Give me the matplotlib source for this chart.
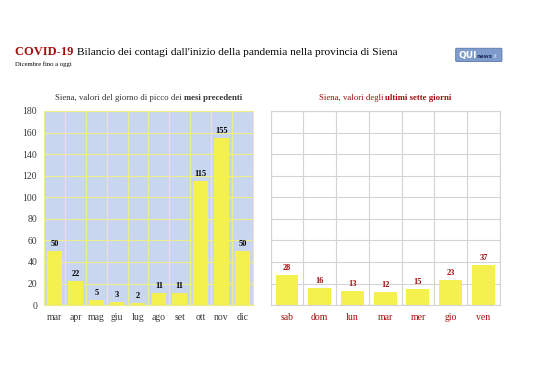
import numpy as np
import matplotlib
matplotlib.use("Agg")
import matplotlib.pyplot as plt
from matplotlib.patches import FancyBboxPatch

plt.rcParams['font.family'] = ['Liberation Serif', 'DejaVu Serif']

# data
months = ['mar', 'apr', 'mag', 'giu', 'lug', 'ago', 'set', 'ott', 'nov', 'dic']
month_peaks = [50, 22, 5, 3, 2, 11, 11, 115, 155, 50]
days = ['sab', 'dom', 'lun', 'mar', 'mer', 'gio', 'ven']
day_values = [28, 16, 13, 12, 15, 23, 37]

red = '#a50e0e'
bar_yellow = '#f4f04e'
tick_grey = '#3a3a3a'

fig = plt.figure(figsize=(5.38, 3.8), dpi=100)
renderer = fig.canvas.get_renderer()


def text_run(x, y, pieces, ha='left'):
    """place a sequence of (text, kwargs) side by side in figure coords"""
    arts = []
    cx = x
    for s, kw in pieces:
        a = fig.text(cx, y, s, va='baseline', **kw)
        w = a.get_window_extent(renderer).width / fig.bbox.width
        arts.append((a, w))
        cx += w
    if ha == 'center':
        total = cx - x
        for a, w in arts:
            a.set_x(a.get_position()[0] - total / 2)
    return arts


# title
text_run(0.028, 0.855, [
    ('COVID-19 ', dict(color=red, fontsize=9, fontweight='bold')),
    ("Bilancio dei contagi dall'inizio della pandemia nella provincia di Siena",
     dict(color='black', fontsize=8.2)),
])
fig.text(0.028, 0.826, 'Dicembre fino a oggi', fontsize=4.8, color='black', va='baseline')

# logo
logo = FancyBboxPatch((0.849, 0.840), 0.082, 0.031, boxstyle='round,pad=0.002',
                      transform=fig.transFigure, facecolor='#7f9ccc', edgecolor='#5a78a8', lw=0.6)
fig.patches.append(logo)
text_run(0.852, 0.848, [
    ('QUI', dict(fontsize=6.5, fontweight='bold', color='white', family='DejaVu Sans')),
    ('news', dict(fontsize=4, fontweight='bold', color='#203060', family='DejaVu Sans')),
    ('.it', dict(fontsize=3.5, color='#dde6f5', family='DejaVu Sans')),
])


def setup(ax, labels, gridcolor, spinecolor):
    n = len(labels)
    ax.set_xlim(-0.5, n - 0.5)
    ax.set_ylim(0, 180)
    ax.set_xticks(np.arange(n))
    ax.set_xticks(np.arange(n + 1) - 0.5, minor=True)
    ax.set_yticks(np.arange(0, 181, 20))
    ax.grid(True, which='minor', axis='x', color=gridcolor, lw=0.8)
    ax.grid(True, which='major', axis='y', color=gridcolor, lw=0.8)
    ax.set_axisbelow(True)
    ax.tick_params(which='both', length=0)
    for s in ax.spines.values():
        s.set_color(spinecolor)
        s.set_linewidth(0.8)


def panel_title(ax, normal, bold, color):
    pos = ax.get_position()
    xc = (pos.x0 + pos.x1) / 2
    text_run(xc, 0.737, [
        (normal + ' ', dict(color=color, fontsize=6.3)),
        (bold, dict(color=color, fontsize=6.3, fontweight='bold')),
    ], ha='center')


# left chart
ax1 = fig.add_axes([0.082, 0.197, 0.388, 0.511])
ax1.set_facecolor('#c9d6f0')
setup(ax1, months, '#eeee88', '#eeee88')
x1 = np.arange(len(months))
ax1.bar(x1, month_peaks, width=0.7, color=bar_yellow, zorder=2)
for xi, v in zip(x1, month_peaks):
    ax1.text(xi, v + 3, str(v), ha='center', va='bottom', fontsize=6, fontweight='bold')
ax1.set_xticklabels(months, fontsize=7)
ax1.tick_params(axis='both', labelcolor=tick_grey)
ax1.tick_params(axis='y', labelsize=7, pad=5)
ax1.tick_params(axis='x', pad=6)
panel_title(ax1, 'Siena, valori del giorno di picco dei', 'mesi precedenti', '#333333')

# right chart
ax2 = fig.add_axes([0.503, 0.197, 0.426, 0.511])
ax2.set_facecolor('white')
setup(ax2, days, '#d4d4d4', '#d4d4d4')
ax2.set_yticklabels([])
x2 = np.arange(len(days))
ax2.bar(x2, day_values, width=0.7, color=bar_yellow, zorder=2)
for xi, v in zip(x2, day_values):
    ax2.text(xi, v + 3, str(v), ha='center', va='bottom', fontsize=6,
             fontweight='bold', color=red)
ax2.set_xticklabels(days, fontsize=7, color=red)
ax2.tick_params(axis='x', pad=6)
panel_title(ax2, 'Siena, valori degli', 'ultimi sette giorni', red)

fig.savefig('out.png', dpi=100)
